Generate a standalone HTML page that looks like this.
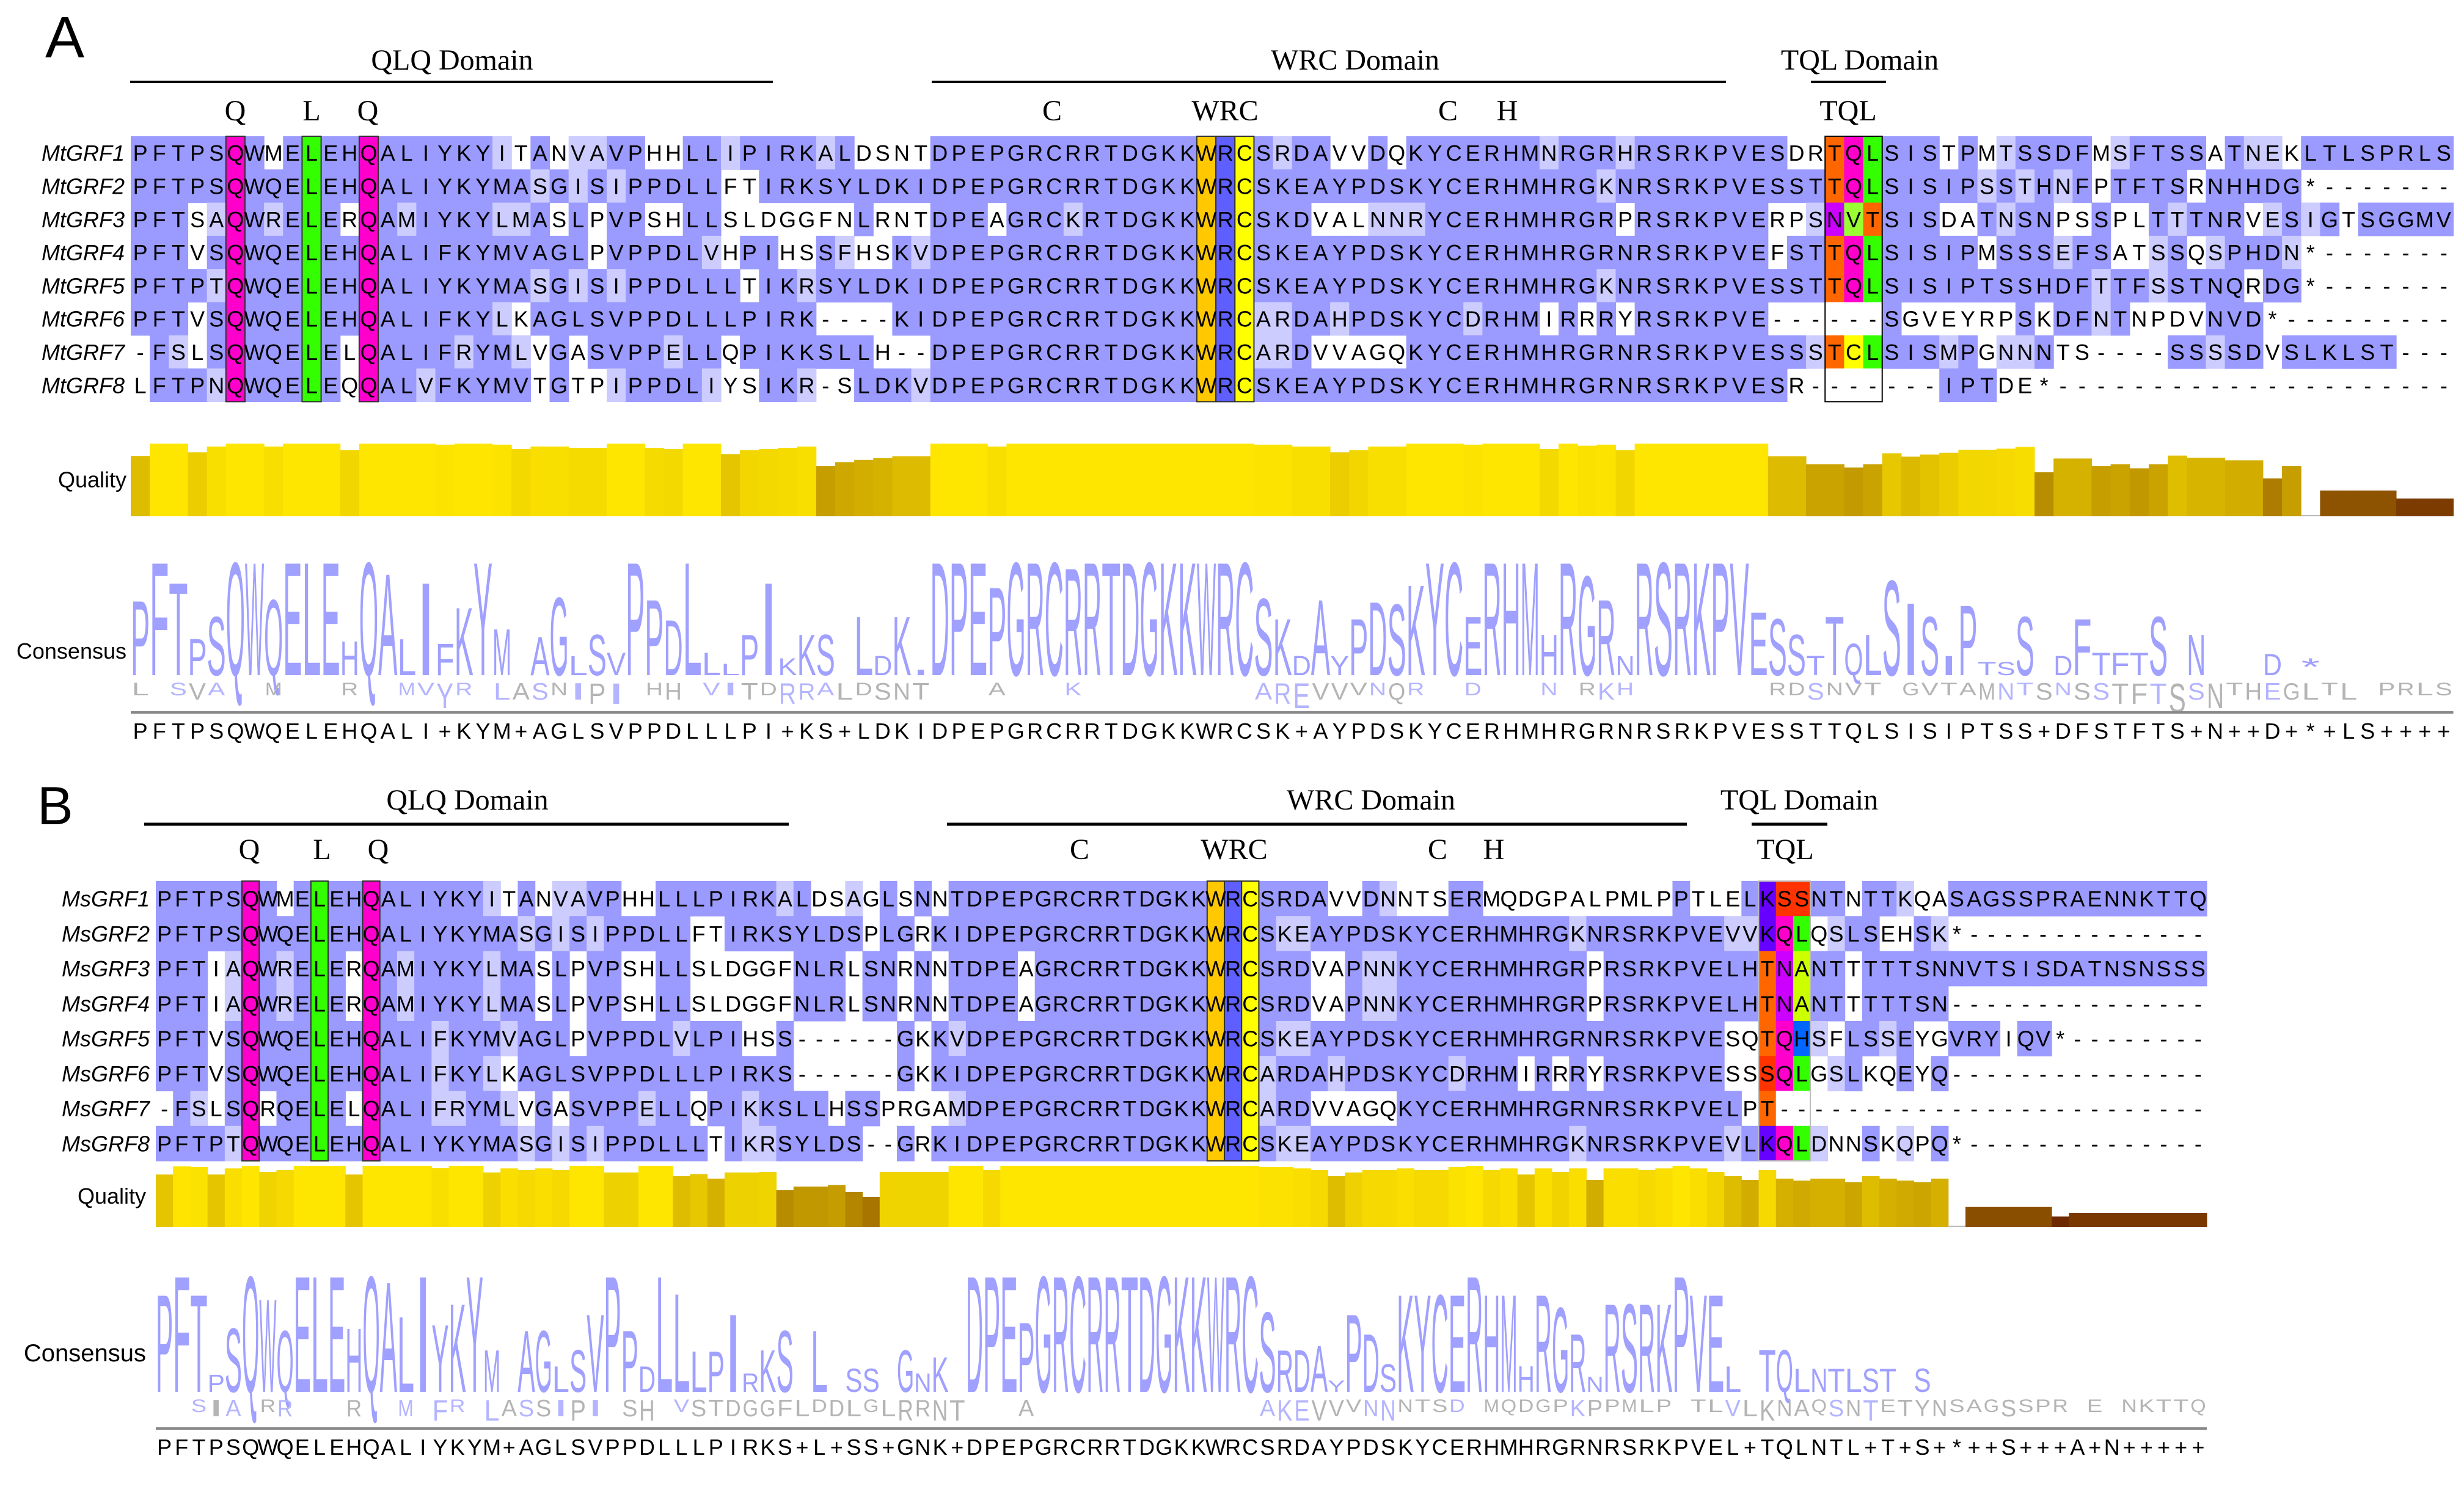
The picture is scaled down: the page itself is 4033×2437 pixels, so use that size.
<!DOCTYPE html>
<html><head><meta charset="utf-8"><style>
html,body{margin:0;padding:0;background:#fff;}
svg{display:block;}
</style></head><body>
<svg id="fig" xmlns="http://www.w3.org/2000/svg" width="4033" height="2437" viewBox="0 0 4033 2437">
<g font-family="'Liberation Serif', serif" font-size="48" fill="#000">
<text x="74" y="94" font-family="'Liberation Sans', sans-serif" font-size="96">A</text>
<text x="740" y="114" text-anchor="middle">QLQ Domain</text>
<text x="2218" y="114" text-anchor="middle">WRC Domain</text>
<text x="3044" y="114" text-anchor="middle">TQL Domain</text>
<line x1="213" y1="134" x2="1265" y2="134" stroke="#000" stroke-width="4"/>
<line x1="1525" y1="134" x2="2825" y2="134" stroke="#000" stroke-width="4"/>
<line x1="2964" y1="134" x2="3087" y2="134" stroke="#000" stroke-width="4"/>
<text x="385" y="197" text-anchor="middle">Q</text>
<text x="510" y="197" text-anchor="middle">L</text>
<text x="602" y="197" text-anchor="middle">Q</text>
<text x="1722" y="197" text-anchor="middle">C</text>
<text x="2005" y="197" text-anchor="middle">WRC</text>
<text x="2370" y="197" text-anchor="middle">C</text>
<text x="2467" y="197" text-anchor="middle">H</text>
<text x="3025" y="197" text-anchor="middle">TQL</text>
</g>
<g font-family="'Liberation Serif', serif" font-size="48" fill="#000">
<text x="61" y="1349" font-family="'Liberation Sans', sans-serif" font-size="88">B</text>
<text x="765" y="1325" text-anchor="middle">QLQ Domain</text>
<text x="2244" y="1325" text-anchor="middle">WRC Domain</text>
<text x="2945" y="1325" text-anchor="middle">TQL Domain</text>
<line x1="236" y1="1349" x2="1291" y2="1349" stroke="#000" stroke-width="5"/>
<line x1="1550" y1="1349" x2="2761" y2="1349" stroke="#000" stroke-width="5"/>
<line x1="2867" y1="1349" x2="2991" y2="1349" stroke="#000" stroke-width="5"/>
<text x="408" y="1406" text-anchor="middle">Q</text>
<text x="527" y="1406" text-anchor="middle">L</text>
<text x="619" y="1406" text-anchor="middle">Q</text>
<text x="1767" y="1406" text-anchor="middle">C</text>
<text x="2020" y="1406" text-anchor="middle">WRC</text>
<text x="2353" y="1406" text-anchor="middle">C</text>
<text x="2445" y="1406" text-anchor="middle">H</text>
<text x="2922" y="1406" text-anchor="middle">TQL</text>
</g>
<g id="dyn"></g>
</svg>
<script>
const namesA = ["MtGRF1","MtGRF2","MtGRF3","MtGRF4","MtGRF5","MtGRF6","MtGRF7","MtGRF8"];
const seqsA = [
"PFTPSQWMELEHQALIYKYITANVAVPHHLLIPIRKALDSNTDPEPGRCRRTDGKKWRCSRDAVVDQKYCERHMNRGRHRSRKPVESDRTQLSISTPMTSSDFMSFTSSATNEKLTLSPRLS",
"PFTPSQWQELEHQALIYKYMASGISIPPDLLFTIRKSYLDKIDPEPGRCRRTDGKKWRCSKEAYPDSKYCERHMHRGKNRSRKPVESSTTQLSISIPSSTHNFPTFTSRNHHDG*-------",
"PFTSAQWRELERQAMIYKYLMASLPVPSHLLSLDGGFNLRNTDPEAGRCKRTDGKKWRCSKDVALNNRYCERHMHRGRPRSRKPVERPSNVTSISDATNSNPSSPLTTTNRVESIGTSGGMV",
"PFTVSQWQELEHQALIFKYMVAGLPVPPDLVHPIHSSFHSKVDPEPGRCRRTDGKKWRCSKEAYPDSKYCERHMHRGRNRSRKPVEFSTTQLSISIPMSSSEFSATSSQSPHDN*-------",
"PFTPTQWQELEHQALIYKYMASGISIPPDLLLTIKRSYLDKIDPEPGRCRRTDGKKWRCSKEAYPDSKYCERHMHRGKNRSRKPVESSTTQLSISIPTSSHDFTTFSSTNQRDG*-------",
"PFTVSQWQELEHQALIFKYLKAGLSVPPDLLLPIRK----KIDPEPGRCRRTDGKKWRCARDAHPDSKYCDRHMIRRRYRSRKPVE------SGVEYRPSKDFNTNPDVNVD*---------",
"-FSLSQWQELELQALIFRYMLVGASVPPELLQPIKKSLLH--DPEPGRCRRTDGKKWRCARDVVAGQKYCERHMHRGRNRSRKPVESSSTCLSISMPGNNNTS----SSSSDVSLKLST---",
"LFTPNQWQELEQQALVFKYMVTGTPIPPDLIYSIKR-SLDKVDPEPGRCRRTDGKKWRCSKEAYPDSKYCERHMHRGRNRSRKPVESR-------IPTDE*---------------------"
];
const consensusA = "PFTPSQWQELEHQALI+KYM+AGLSVPPDLLLPI+KS+LDKIDPEPGRCRRTDGKKWRCSK+AYPDSKYCERHMHRGRNRSRKPVESSTTQLSISIPTSS+DFSTFTS+N++D+*+LS++++";
const qualityA = [0.83,1,1,0.88,0.96,1,1,0.96,1,1,1,0.91,1,1,1,1,0.985,1,1,0.985,0.925,0.96,0.96,0.94,0.94,1,1,0.94,0.925,1,1,0.855,0.91,0.925,0.94,0.96,0.69,0.745,0.775,0.8,0.826,0.826,1,1,1,0.96,1,1,1,1,1,1,1,1,1,1,1,1,1,0.985,0.985,0.96,0.96,0.88,0.91,0.96,0.96,1,1,1,0.985,1,1,1,0.925,1,0.97,0.985,0.91,1,1,1,1,1,1,1,0.826,0.826,0.715,0.715,0.67,0.715,0.865,0.82,0.85,0.875,0.915,0.915,0.93,0.955,0.605,0.795,0.795,0.69,0.715,0.66,0.715,0.835,0.805,0.805,0.77,0.77,0.52,0.69,0.01,0.355,0.355,0.355,0.355,0.245,0.245,0.245];
const logoLettersA = "PFTPSQWQELEHQALIFKYM AGLSVPPDLLLPIKKS LDKIDPEPGRCRRTDGKKWRCSKDAYPDSKYCERHMHRGRNRSRKPVESSTTQLSISIPTSS DFTFTS N   D * S    ";
const logoHeightA = [0.66,1,0.82,0.32,0.52,1,1,0.67,1,1,1,0.3,1,0.9,0.32,0.82,0.28,0.6,1,0.41,0,0.34,0.69,0.17,0.36,0.2,1,0.67,0.49,1,0.2,0.1,0.36,0.82,0.15,0.36,0.36,0,0.52,0.17,0.52,0.05,1,1,1,0.78,1,1,1,0.95,1,1,1,1,1,1,1,1,1,0.68,0.5,0.17,0.67,0.17,0.5,0.65,0.63,0.8,1,1,0.52,1,1,1,0.36,1,0.88,0.67,0.17,1,1,1,1,1,1,0.56,0.5,0.36,0.17,0.52,0.28,0.36,0.84,0.64,0.52,0.17,0.62,0.12,0.12,0.52,0,0.17,0.5,0.2,0.2,0.2,0.52,0,0.36,0,0,0,0.19,0,0.15,0,0,0.15,0,0,0,0];

const namesB = ["MsGRF1","MsGRF2","MsGRF3","MsGRF4","MsGRF5","MsGRF6","MsGRF7","MsGRF8"];
const seqsB = [
"PFTPSQWMELEHQALIYKYITANVAVPHHLLLPIRKALDSAGLSNNTDPEPGRCRRTDGKKWRCSRDAVVDNNTSERMQDGPALPMLPPTLELKSSNTNTTKQASAGSSPRAENNKTTQ",
"PFTPSQWQELEHQALIYKYMASGISIPPDLLFTIRKSYLDSPLGRKIDPEPGRCRRTDGKKWRCSKEAYPDSKYCERHMHRGKNRSRKPVEVVKQLQSLSEHSK*--------------",
"PFTIAQWRELERQAMIYKYLMASLPVPSHLLSLDGGFNLRLSNRNNTDPEAGRCRRTDGKKWRCSRDVAPNNKYCERHMHRGRPRSRKPVELHTNANTTTTTSNNVTSISDATNSNSSS",
"PFTIAQWRELERQAMIYKYLMASLPVPSHLLSLDGGFNLRLSNRNNTDPEAGRCRRTDGKKWRCSRDVAPNNKYCERHMHRGRPRSRKPVELHTNANTTTTTSN---------------",
"PFTVSQWQELEHQALIFKYMVAGLPVPPDLVLPIHSS------GKKVDPEPGRCRRTDGKKWRCSKEAYPDSKYCERHMHRGRNRSRKPVESQTQHSFLSSEYGVRYIQV*--------",
"PFTVSQWQELEHQALIFKYLKAGLSVPPDLLLPIRKS------GKKIDPEPGRCRRTDGKKWRCARDAHPDSKYCDRHMIRRRYRSRKPVESSSQLGSLKQEYQ---------------",
"-FSLSQRQELELQALIFRYMLVGASVPPELLQPIKKSLLHSSPRGAMDPEPGRCRRTDGKKWRCARDVVAGQKYCERHMHRGRNRSRKPVELPT-------------------------",
"PFTPTQWQELEHQALIYKYMASGISIPPDLLLTIKRSYLDS--GRKIDPEPGRCRRTDGKKWRCSKEAYPDSKYCERHMHRGKNRSRKPVEVLKQLDNNSKQPQ*--------------"
];
const consensusB = "PFTPSQWQELEHQALIYKYM+AGLSVPPDLLLPIRKS+L+SS+GNK+DPEPGRCRRTDGKKWRCSRDAYPDSKYCERHMHRGRNRSRKPVEL+TQLNTL+T+S+*++S+++A+N+++++";
const qualityB = [0.857,0.99,0.98,0.857,0.957,1,0.9,0.93,1,1,1,0.857,1,1,1,1,0.96,1,1,0.89,0.957,0.93,0.957,0.93,1,1,0.89,0.89,1,1,0.83,0.864,0.79,0.89,0.89,0.9,0.6,0.66,0.66,0.686,0.57,0.49,0.9,0.9,0.9,0.9,1,1,0.93,1,1,1,1,1,1,1,1,1,1,1,1,1,1,1,0.98,0.98,0.957,0.93,0.83,0.89,0.93,0.93,0.957,0.93,0.93,0.98,1,0.93,0.957,0.857,0.957,0.9,0.957,0.77,0.957,0.957,0.93,0.957,1,0.957,0.9,0.83,0.77,0.93,0.79,0.757,0.79,0.79,0.73,0.83,0.79,0.757,0.73,0.79,0,0.33,0.33,0.33,0.33,0.33,0.17,0.23,0.23,0.23,0.23,0.23,0.23,0.23,0.23];
const logoLettersB = "PFTPSQWQELEHQALIYKYM AGLSVPPDLLLPIRKS L SS GNK DPEPGRCRRTDGKKWRCSRDAYPDSKYCERHMHRGRNRSRKPVEL TQLNTLST S                ";
const logoHeightB = [0.84,1,0.84,0.15,0.55,1,0.8,0.53,1,1,1,0.55,1,0.95,0.65,1,0.58,0.76,1,0.36,0,0.53,0.53,0.22,0.36,0.67,1,0.53,0.22,1,0.85,0.35,0.35,0.67,0.16,0.36,0.53,0,0.53,0,0.2,0.2,0,0.36,0.16,0.3,0,1,1,1,0.6,1,1,1,1,1,1,1,1,1,1,1,1,1,0.69,0.36,0.36,0.4,0.1,0.67,0.5,0.24,0.84,0.84,0.84,0.84,1,0.84,0.84,0.22,0.84,0.73,0.5,0.13,0.76,0.76,0.76,0.76,1,0.84,0.84,0.22,0,0.36,0.36,0.2,0.2,0.2,0.2,0.2,0.2,0,0.2,0,0,0,0,0,0,0,0,0,0,0,0,0,0,0,0,0];

const NS = "http://www.w3.org/2000/svg";
const dyn = document.getElementById("dyn");
const SIM = ["IV","IL","IM","LM","LV","MV","FY","FW","WY","HY","KR","KQ","KE","RQ","EQ","ED","DN","NS","HN","ST","AS"];
function similar(a,b){return SIM.indexOf(a+b)>=0||SIM.indexOf(b+a)>=0;}
const TQLC = {T:"#ff6600",Q:"#ff00cc",L:"#33ff00",S:"#ff3300",K:"#6600ff",N:"#cc00ff",A:"#ccff00",H:"#0066ff",C:"#ffff00",V:"#99ff33"};
function mk(tag,attrs,parent){const e=document.createElementNS(NS,tag);for(const k in attrs)e.setAttribute(k,attrs[k]);(parent||dyn).appendChild(e);return e;}
function qColor(v){
  const stops=[[0,[110,40,0]],[0.17,[110,40,0]],[0.23,[122,56,0]],[0.35,[140,82,0]],[0.5,[170,120,0]],[0.6,[184,140,0]],[0.7,[200,160,0]],[0.8,[214,178,0]],[0.9,[240,212,0]],[1,[255,230,0]]];
  for(let i=1;i<stops.length;i++){if(v<=stops[i][0]){const a=stops[i-1],b=stops[i];const t=(v-a[0])/((b[0]-a[0])||1);const c=a[1].map((x,j)=>Math.round(x+(b[1][j]-x)*t));return "rgb("+c.join(",")+")";}}
  return "rgb(255,230,0)";
}
function drawPanel(P){
  const g=mk("g",{});
  
  
  const n=P.seqs[0].length, cw=P.cw;
  const cx=i=>P.x0+i*cw;
  // shading
  for(let c=0;c<n;c++){
    const cnt={};P.seqs.forEach(s=>{const r=s[c];if(r!=="-"&&r!=="*")cnt[r]=(cnt[r]||0)+1;});
    let mx=0;for(const k in cnt)mx=Math.max(mx,cnt[k]);
    const top=Object.keys(cnt).filter(k=>cnt[k]===mx);
    P.seqs.forEach((s,r)=>{
      const res=s[c];if(res==="-"||res==="*")return;
      let fill=null;
      if(top.indexOf(res)>=0)fill="#9a9aff";else if(top.some(t=>similar(t,res)))fill="#ccccff";
      if(fill){const rc=mk("rect",{x:cx(c),y:P.y0+r*P.rh,width:cw+0.6,height:P.rh+0.6,fill:fill},g);
        
        }
    });
  }
  // motif columns
  const colFill=(c,fill,name)=>{const rc=mk("rect",{x:cx(c),y:P.y0,width:cw,height:P.rh*8,fill:fill},g);
    
    
    mk("rect",{x:cx(c),y:P.y0,width:cw,height:P.rh*8,fill:"none",stroke:"#333",'stroke-width':2},g);};
  colFill(5,"#ff00cc","qlq-q1-column");colFill(9,"#33ff00","qlq-l-column");colFill(12,"#ff00cc","qlq-q2-column");
  colFill(P.wrc,"#ffc800","wrc-w-column");colFill(P.wrc+1,"#5f5fff","wrc-r-column");colFill(P.wrc+2,"#ffff00","wrc-c-column");
  P.seqs.forEach((s,r)=>{for(let c=P.tql;c<P.tql+3;c++){const res=s[c];const f=TQLC[res];
    const rc=mk("rect",{x:cx(c),y:P.y0+r*P.rh,width:cw+0.5,height:P.rh+0.5,fill:f||"#fff"},g);
    
    }});
  mk("rect",{x:cx(P.tql),y:P.y0,width:cw*3,height:P.rh*8,fill:"none",stroke:P.id==="panel-a"?"#000":"#bbb",'stroke-width':2},g);
  // names and residues
  P.seqs.forEach((s,r)=>{
    const yb=P.y0+r*P.rh+P.rh/2+13;
    const nm=mk("text",{x:P.nameR,y:yb,'text-anchor':'end','font-family':"'Liberation Sans', sans-serif",'font-style':'italic','font-size':36},g);
    nm.textContent=P.names[r];
    
    
    const t=mk("text",{y:yb,'font-family':"'Liberation Sans', sans-serif",'font-size':36,'text-anchor':'middle'},g);
    
    
    for(let c=0;c<n;c++){const sp=mk("tspan",{x:(cx(c)+cw/2).toFixed(1)},t);sp.textContent=s[c];}
  });
  // quality
  const ql=mk("text",{x:P.labR,y:P.qBase-P.qH/2+12,'text-anchor':'end','font-family':"'Liberation Sans', sans-serif",'font-size':36},g);
  ql.textContent="Quality";
  
  
  P.quality.forEach((v,c)=>{const h=Math.max(v*P.qH,2);
    const b=mk("rect",{x:cx(c),y:P.qBase-h,width:cw+0.5,height:h,fill:v<0.05?"#bbb":qColor(v)},g);
    
    });
  // logo
  const cl=mk("text",{x:P.labR,y:P.cLabY,'text-anchor':'end','font-family':"'Liberation Sans', sans-serif",'font-size':P.id==="panel-a"?36:40},g);
  cl.textContent="Consensus";
  
  
  for(let c=0;c<n;c++){
    const L=P.logoL[c],h=P.logoH[c];
    if(L&&L!==" "&&h>0){
      const lt=mk("text",{x:0,y:0,textLength:cw,lengthAdjust:"spacingAndGlyphs",'font-family':"'Liberation Sans', sans-serif",'font-size':100,fill:"#a0a0ff",transform:"translate("+cx(c).toFixed(1)+","+P.lBase+") scale(1,"+(h*P.lH/72).toFixed(3)+")"},g);
      lt.textContent=L;
      
      
    }
    // secondary residue
    const cnt={};P.seqs.forEach(s=>{const r=s[c];if(r!=="-"&&r!=="*")cnt[r]=(cnt[r]||0)+1;});
    const ks=Object.keys(cnt).sort((a,b)=>cnt[b]-cnt[a]).filter(k=>k!==L);
    if(ks.length&&h<0.97&&Object.keys(cnt).length>1){
      const k2=ks[0];const hh=14+7*cnt[k2];
      const st=mk("text",{x:0,y:0,textLength:cw*0.9,lengthAdjust:"spacingAndGlyphs",'font-family':"'Liberation Sans', sans-serif",'font-size':100,fill:similar(k2,L)?"#b4b4ff":"#b4b4b4",transform:"translate("+(cx(c)+cw*0.05).toFixed(1)+","+(P.lBase+12+hh)+") scale(1,"+(hh/72).toFixed(3)+")"},g);
      st.textContent=k2;
      
      
    }
  }
  const ln=mk("line",{x1:P.x0,x2:cx(n),y1:P.cLine,y2:P.cLine,stroke:"#888",'stroke-width':4},g);
  
  
  const ct=mk("text",{y:P.cLine+43,'font-family':"'Liberation Sans', sans-serif",'font-size':36,'text-anchor':'middle'},g);
  
  
  for(let c=0;c<n;c++){const sp=mk("tspan",{x:(cx(c)+cw/2).toFixed(1)},ct);sp.textContent=P.cons[c];}
}
drawPanel({id:"panel-a",names:namesA,seqs:seqsA,cons:consensusA,quality:qualityA,logoL:logoLettersA,logoH:logoHeightA,
  x0:214,cw:31.16,y0:223,rh:54.3,nameR:204,wrc:56,tql:89,labR:207,qBase:845,qH:119,cLabY:1078,lBase:1105,lH:191,cLine:1166});
drawPanel({id:"panel-b",names:namesB,seqs:seqsB,cons:consensusB,quality:qualityB,logoL:logoLettersB,logoH:logoHeightB,
  x0:255,cw:28.21,y0:1442,rh:57.25,nameR:245,wrc:61,tql:93,labR:239,qBase:2008,qH:100,cLabY:2228,lBase:2278,lH:196,cLine:2338});
</script>
</body></html>
